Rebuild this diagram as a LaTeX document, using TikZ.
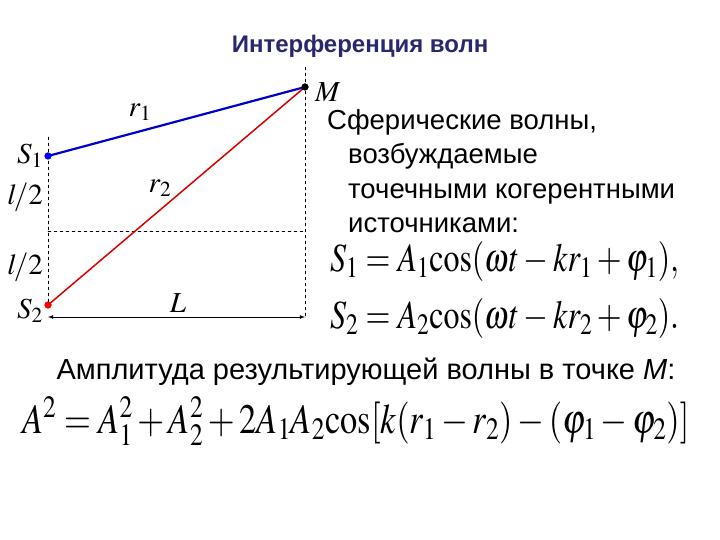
\documentclass[tikz,border=0pt]{standalone}
\usepackage{amsmath}
\usepackage{graphicx}
\usepackage{mathptmx}
\usepackage{fontspec}
\setmainfont{Liberation Sans}
\usepackage{xcolor}
\definecolor{titleblue}{RGB}{40,40,110}

\begin{document}
\begin{tikzpicture}[x=1pt, y=-1pt, line join=round, line cap=round,
  dot/.style={circle, inner sep=0pt, minimum size=7pt},
  lab/.style={inner sep=0pt, font=\fontsize{29}{29}\selectfont},
  guide/.style={black, thin, dashed},
  formula/.style={anchor=base west, inner sep=0pt}]
\useasboundingbox (0,0) rectangle (720,540);

% title
\node[font=\bfseries\fontsize{24}{28}\selectfont, text=titleblue] (title) at (360,46) {Интерференция волн};

% sources and observation point
\node[dot, fill=blue] (S1) at (48,156) {};
\node[dot, fill=red] (S2) at (48,305) {};
\node[dot, fill=black] (M) at (305,87) {};
\coordinate (top1) at (48,137);
\coordinate (midL) at (48,231);
\coordinate (midR) at (305,231);
\coordinate (topR) at (305,67);
\coordinate (botR) at (305,318);
\coordinate (arrL) at (48,317);
\coordinate (arrR) at (305,317);

% guide lines
\draw[guide] (top1) -- (S2.center);
\draw[guide] (midL) -- (midR);
\draw[guide] (topR) -- (botR);
\draw[<->, >=latex, thick] (arrL) -- (arrR);

% rays
\draw[blue!80!black, line width=2.2pt] (S1.center) -- (M.center);
\draw[red!85!black, line width=1.5pt] (S2.center) -- (M.center);
\node[dot, fill=blue] at (S1) {};
\node[dot, fill=red] at (S2) {};
\node[dot, fill=black] at (M) {};

% labels
\node[lab, anchor=east] (S1lab) at (43,156) {$S_1$};
\node[lab, anchor=east] (l1lab) at (43,197) {$l\!/2$};
\node[lab, anchor=east] (l2lab) at (43,267) {$l\!/2$};
\node[lab, anchor=east] (S2lab) at (43,311) {$S_2$};
\node[lab] (r1lab) at (140,112) {$r_1$};
\node[lab] (r2lab) at (160,188) {$r_2$};
\node[lab] (Llab) at (178,303) {$L$};
\node[lab, anchor=west] (Mlab) at (315,92) {$M$};

% text
\node[anchor=base west, align=left, inner sep=0pt,
  font=\fontsize{27.5}{34.5}\selectfont] (waves) at (327,233)
  {Сферические волны,\\\hspace*{21pt}возбуждаемые\\\hspace*{21pt}точечными когерентными\\\hspace*{21pt}источниками:};
\node[formula, font=\fontsize{40}{40}\selectfont] (eqS1) at (330,271)
  {\scalebox{0.8}[1]{$S_1=A_1\!\cos(\omega t-kr_1+\varphi_1),$}};
\node[formula, font=\fontsize{40}{40}\selectfont] (eqS2) at (330,328)
  {\scalebox{0.8}[1]{$S_2=A_2\!\cos(\omega t-kr_2+\varphi_2).$}};
\node[anchor=base, inner sep=0pt, font=\fontsize{29}{32}\selectfont] (ampl) at (366,379)
  {Амплитуда результирующей волны в точке \textit{M}:};
\node[formula, font=\fontsize{42}{42}\selectfont] (eqA) at (22,433)
  {\scalebox{0.82}[1]{$A^2=A_1^2+A_2^2+2A_1A_2\!\cos[k(r_1-r_2)-(\varphi_1-\varphi_2)]$}};
\end{tikzpicture}
\end{document}
